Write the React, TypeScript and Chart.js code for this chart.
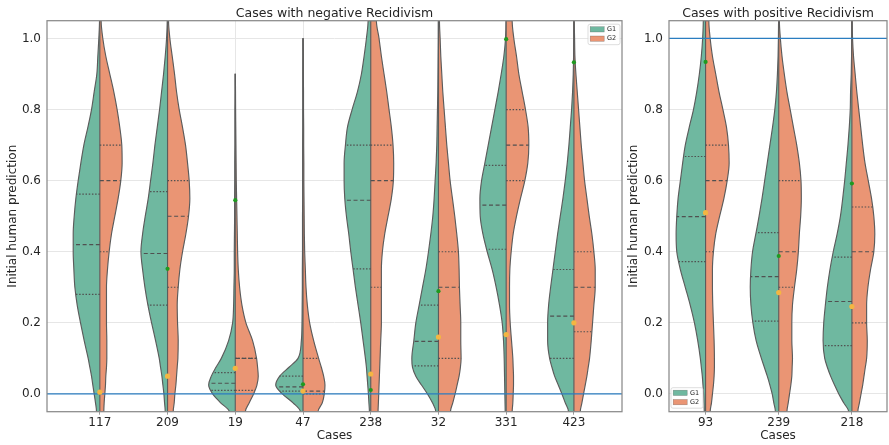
import React, { useEffect, useRef } from "react";
import { Chart, registerables } from "chart.js";
Chart.register(...registerables);

const FONT = '"DejaVu Sans", sans-serif';
const TEXT = "#262626";
const G1_COLOR = "#6fb8a0";
const G2_COLOR = "#ea9574";
const EDGE = "#5c5c5c";
const GRID = "#e6e6e6";

// y positions at which the density widths below were read
const Y_GRID = [-0.05, -0.025, 0, 0.025, 0.05, 0.075, 0.1, 0.15, 0.2, 0.25, 0.3, 0.35, 0.4, 0.45, 0.5, 0.55, 0.6, 0.65, 0.7, 0.75, 0.8, 0.85, 0.9, 0.95, 1.0, 1.05];
const Y_TICKS = [0, 0.2, 0.4, 0.6, 0.8, 1.0];

// ---------- Cases with negative Recidivism ----------
const NEG_CASES = ["117", "209", "19", "47", "238", "32", "331", "423"];
const NEG_G1: (number | null)[][] = [
  [10, 13, 17, 21, 25, 30, 35, 47, 58, 68, 75, 78, 80, 80, 77, 72, 65, 57, 48, 36, 25, 17, 9, 6, 3, 1],
  [7, 9, 11, 14, 17, 21, 25, 36, 48, 59, 68, 75, 80, 75, 67, 58, 51, 44, 38, 31, 24, 18, 12, 7, 3, 1],
  [18, 44, 68, 80, 72, 58, 42, 20, 8, 5, 4, 3, 3, 2.5, 2, 2, 1.5, 1.5, 1, 1, 1, 0.5, 0.5, null, null, null],
  [8, 30, 62, 82, 70, 42, 15, 5, 3, 2.5, 2, 2, 1.5, 1.5, 1.5, 1, 1, 1, 1, 0.5, 0.5, 0.5, 0.5, 0.3, 0.3, null],
  [4, 5.5, 7, 9, 11, 13, 16, 23, 30, 38, 46, 53, 60, 66, 73, 78, 80, 80, 76, 70, 56, 40, 28, 20, 13, 8],
  [8, 18, 33, 51, 68, 78, 80, 74, 68, 58, 48, 38, 30, 23, 17, 13, 10, 7, 5, 4, 3, 2, 1.5, 1, 0.5, 0.3],
  [3, 3.5, 4, 4.5, 5, 5.5, 6, 8, 12, 20, 30, 42, 57, 70, 78, 79, 74, 64, 54, 44, 34, 24, 15, 7, 2, 0.5],
  [16, 26, 36, 47, 58, 66, 73, 79, 79, 76, 70, 63, 56, 49, 41, 33, 26, 20, 15, 11, 7, 4, 2, 1, 0.5, 0.3],
];
const NEG_G2: (number | null)[][] = [
  [12, 13, 15, 17, 18, 20, 21, 21, 20, 20, 20, 23, 28, 35, 45, 55, 63, 67, 66, 60, 52, 42, 30, 18, 9, 4],
  [17, 20, 22, 25, 27, 29, 31, 32, 30, 29, 32, 37, 45, 55, 63, 67, 65, 60, 54, 45, 35, 27, 21, 14, 7, 3],
  [30, 42, 55, 65, 69, 67, 64, 52, 32, 20, 13, 9, 7, 6, 5, 4, 3, 2.5, 2, 1.5, 1, 0.7, 0.3, null, null, null],
  [45, 58, 64, 66, 62, 55, 47, 32, 20, 13, 9, 7, 5, 4, 3.5, 3, 2.5, 2.5, 2, 2, 1.5, 1.5, 1, 1, 0.5, null],
  [22, 23, 24, 25, 26, 27, 28, 30, 32, 32, 32, 32, 35, 42, 52, 62, 68, 69, 67, 62, 55, 48, 40, 32, 25, 17],
  [36, 43, 50, 56, 62, 66, 68, 67, 67, 65, 63, 62, 60, 55, 49, 42, 35, 30, 25, 21, 17, 13, 10, 7, 5, 3],
  [18, 20, 21, 22, 22, 21, 20, 16, 12, 10, 10, 11, 15, 21, 31, 43, 56, 65, 68, 66, 58, 48, 38, 31, 23, 18],
  [19, 24, 29, 34, 39, 43, 47, 52, 56, 60, 64, 64, 60, 54, 46, 39, 32, 27, 22, 18, 14, 10, 6, 3, 2, 1],
];
// quartiles [q1, median, q3]
const NEG_Q_G1 = [[0.28, 0.42, 0.562], [0.25, 0.395, 0.569], [0.01, 0.03, 0.06], [0.008, 0.02, 0.05], [0.352, 0.545, 0.7], [0.079, 0.148, 0.25], [0.407, 0.531, 0.643], [0.1, 0.219, 0.35]];
const NEG_Q_G2 = [[0.4, 0.6, 0.7], [0.3, 0.5, 0.6], [0.01, 0.1, 0.1], [0.0, 0.008, 0.1], [0.3, 0.6, 0.7], [0.1, 0.3, 0.4], [0.6, 0.7, 0.8], [0.175, 0.3, 0.4]];
const NEG_GREEN = [0.004, 0.352, 0.545, 0.027, 0.011, 0.289, 0.998, 0.933];
const NEG_ORANGE = [0.005, 0.05, 0.072, 0.008, 0.056, 0.16, 0.167, 0.2];
const NEG_REF = 0;

// ---------- Cases with positive Recidivism ----------
const POS_CASES = ["93", "239", "218"];
const POS_G1: (number | null)[][] = [
  [4, 5, 6, 8, 10, 13, 16, 24, 34, 47, 62, 77, 88, 90, 88, 84, 77, 70, 62, 50, 37, 27, 19, 13, 9, 7],
  [10, 15, 20, 27, 35, 44, 53, 69, 79, 85, 87, 85, 80, 70, 60, 51, 43, 35, 27, 19, 12, 7, 4, 2, 1, 0.5],
  [10, 25, 40, 53, 65, 75, 83, 88, 86, 81, 75, 67, 57, 45, 35, 28, 22, 17, 12, 8, 5, 4, 2, 1, 0.5, 0.3],
];
const POS_G2: (number | null)[][] = [
  [14, 18, 21, 24, 26, 27, 27, 26, 24, 22, 21, 21, 24, 31, 43, 56, 66, 72, 70, 64, 53, 41, 31, 21, 14, 10],
  [25, 29, 33, 37, 40, 41, 42, 40, 40, 42, 48, 55, 60, 63, 67, 69, 68, 63, 55, 45, 35, 25, 17, 10, 5, 2],
  [18, 23, 28, 33, 37, 41, 45, 47, 45, 45, 49, 57, 67, 70, 67, 60, 50, 40, 33, 27, 21, 15, 10, 5, 2, 1],
];
const POS_Q_G1 = [[0.372, 0.499, 0.668], [0.205, 0.33, 0.454], [0.136, 0.26, 0.385]];
const POS_Q_G2 = [[0.4, 0.6, 0.7], [0.3, 0.4, 0.6], [0.2, 0.4, 0.526]];
const POS_GREEN = [0.934, 0.388, 0.592];
const POS_ORANGE = [0.51, 0.285, 0.246];
const POS_REF = 1.0;

type Panel = {
  title: string;
  cases: string[];
  g1: (number | null)[][];
  g2: (number | null)[][];
  q1: number[][];
  q2: number[][];
  green: number[];
  orange: number[];
  ref: number;
  xMin: number;
  xMax: number;
  widthScale: number;
  yAxisWidth: number;
  padRight: number;
  yTitlePad: number;
  legend: "tr" | "bl";
};

const NEG_PANEL: Panel = {
  title: "Cases with negative Recidivism",
  cases: NEG_CASES, g1: NEG_G1, g2: NEG_G2, q1: NEG_Q_G1, q2: NEG_Q_G2,
  green: NEG_GREEN, orange: NEG_ORANGE, ref: NEG_REF,
  xMin: -0.78, xMax: 7.71, widthScale: 1 / 203.5,
  yAxisWidth: 47, padRight: 3, yTitlePad: 5.8, legend: "tr",
};
const POS_PANEL: Panel = {
  title: "Cases with positive Recidivism",
  cases: POS_CASES, g1: POS_G1, g2: POS_G2, q1: POS_Q_G1, q2: POS_Q_G2,
  green: POS_GREEN, orange: POS_ORANGE, ref: POS_REF,
  xMin: -0.5, xMax: 2.48, widthScale: 1 / 223.5,
  yAxisWidth: 43, padRight: 0, yTitlePad: 0.8, legend: "bl",
};

function widthAt(ws: (number | null)[], y: number): number {
  for (let i = 0; i < Y_GRID.length - 1; i++) {
    const y0 = Y_GRID[i], y1 = Y_GRID[i + 1];
    if (y >= y0 && y <= y1) {
      const a = ws[i] ?? 0, b = ws[i + 1] ?? 0;
      return a + ((b - a) * (y - y0)) / (y1 - y0);
    }
  }
  return 0;
}

function validIdx(ws: (number | null)[]) {
  const idx: number[] = [];
  ws.forEach((w, i) => { if (w !== null && w !== undefined) idx.push(i); });
  return idx;
}

function buildDatasets(p: Panel) {
  const bottom: any[] = [];
  const base = { pointRadius: 0, clip: 0, spanGaps: false };
  p.cases.forEach((_, c) => {
    const halves = [
      { ws: p.g1[c], sign: -1, color: G1_COLOR, q: p.q1[c] },
      { ws: p.g2[c], sign: 1, color: G2_COLOR, q: p.q2[c] },
    ];
    let yLo = Infinity, yHi = -Infinity;
    halves.forEach((h) => {
      const idx = validIdx(h.ws);
      const pts: any[] = [];
      pts.push({ x: c, y: Y_GRID[idx[0]] });
      idx.forEach((i) => pts.push({ x: c + h.sign * (h.ws[i] as number) * p.widthScale, y: Y_GRID[i] }));
      pts.push({ x: c, y: Y_GRID[idx[idx.length - 1]] });
      yLo = Math.min(yLo, Y_GRID[idx[0]]);
      yHi = Math.max(yHi, Y_GRID[idx[idx.length - 1]]);
      bottom.push({
        ...base,
        data: pts,
        borderColor: EDGE,
        borderWidth: 1.15,
        backgroundColor: h.color,
        fill: "shape",
        cubicInterpolationMode: "monotone",
      });
    });
    // split line
    bottom.push({ ...base, data: [{ x: c, y: yLo }, { x: c, y: yHi }], borderColor: EDGE, borderWidth: 1.15, fill: false });
    // quartile lines
    halves.forEach((h) => {
      h.q.forEach((qv, k) => {
        const w = widthAt(h.ws, qv) * p.widthScale;
        bottom.push({
          ...base,
          data: [{ x: c, y: qv }, { x: c + h.sign * w, y: qv }],
          borderColor: "#505050",
          borderWidth: 1.15,
          borderDash: k === 1 ? [4, 2.6] : [1.5, 1.7],
          fill: false,
        });
      });
    });
  });
  // reference line
  bottom.push({ ...base, data: [{ x: p.xMin, y: p.ref }, { x: p.xMax, y: p.ref }], borderColor: "#2a7dc0", borderWidth: 1.3, fill: false });
  // dots
  bottom.push({
    data: p.green.map((v, i) => ({ x: i, y: v })),
    showLine: false, pointRadius: 2.1, pointBorderWidth: 0,
    pointBackgroundColor: "#1f9a1f", clip: 4,
  });
  bottom.push({
    data: p.orange.map((v, i) => ({ x: i, y: v })),
    showLine: false, pointRadius: 2.6, pointBorderWidth: 0,
    pointBackgroundColor: "#f4b642", clip: 4,
  });
  return bottom.reverse();
}

function decorPlugin(p: Panel) {
  return {
    id: "decor",
    afterDraw(chart: any) {
      const { ctx, chartArea: a } = chart;
      ctx.save();
      ctx.strokeStyle = "#8a8a8a";
      ctx.lineWidth = 1.25;
      ctx.strokeRect(a.left, a.top, a.right - a.left, a.bottom - a.top);
      ctx.fillStyle = TEXT;
      ctx.font = `12.5px ${FONT}`;
      ctx.textAlign = "center";
      ctx.textBaseline = "alphabetic";
      ctx.fillText(p.title, (a.left + a.right) / 2, a.top - 3.3);
      // legend
      const w = 32, h = 20.5;
      const x0 = p.legend === "tr" ? a.right - 2 - w : a.left + 2;
      const y0 = p.legend === "tr" ? a.top + 3.5 : a.bottom - 3.5 - h;
      ctx.beginPath();
      if (ctx.roundRect) ctx.roundRect(x0, y0, w, h, 2); else ctx.rect(x0, y0, w, h);
      ctx.fillStyle = "rgba(255,255,255,0.8)";
      ctx.fill();
      ctx.strokeStyle = "#d4d4d4";
      ctx.lineWidth = 0.8;
      ctx.stroke();
      const items = [{ t: "G1", c: G1_COLOR }, { t: "G2", c: G2_COLOR }];
      items.forEach((it, i) => {
        const py = y0 + 2.5 + i * 9.3;
        ctx.fillStyle = it.c;
        ctx.fillRect(x0 + 2.2, py, 14, 5.3);
        ctx.strokeStyle = "rgba(70,70,70,0.5)";
        ctx.lineWidth = 0.5;
        ctx.strokeRect(x0 + 2.2, py, 14, 5.3);
        ctx.fillStyle = TEXT;
        ctx.font = `6.5px ${FONT}`;
        ctx.textAlign = "left";
        ctx.textBaseline = "middle";
        ctx.fillText(it.t, x0 + 19, py + 2.8);
      });
      ctx.restore();
    },
  };
}

function makeConfig(p: Panel): any {
  const tickFont = { family: FONT, size: 12 };
  return {
    type: "line",
    data: { datasets: buildDatasets(p) },
    options: {
      animation: false,
      responsive: false,
      events: [],
      indexAxis: "y",
      layout: { padding: { left: 0, right: p.padRight, top: 20.7, bottom: 0 } },
      plugins: { legend: { display: false }, tooltip: { enabled: false }, title: { display: false } },
      scales: {
        x: {
          type: "linear",
          min: p.xMin,
          max: p.xMax,
          bounds: "data",
          afterFit: (s: any) => { s.height = 33.3; },
          afterBuildTicks: (s: any) => { s.ticks = p.cases.map((_, i) => ({ value: i })); },
          ticks: { callback: (v: number) => p.cases[Math.round(v)], font: tickFont, color: TEXT, padding: 1, autoSkip: false, maxRotation: 0 },
          grid: { color: GRID, lineWidth: 1, tickLength: 3, tickColor: "#9a9a9a" },
          border: { display: false },
          title: { display: true, text: "Cases", font: { family: FONT, size: 12 }, color: TEXT, padding: { top: 0, bottom: 1.8 } },
        },
        y: {
          type: "linear",
          min: -0.05,
          max: 1.05,
          bounds: "data",
          afterFit: (s: any) => { s.width = p.yAxisWidth; },
          afterBuildTicks: (s: any) => { s.ticks = Y_TICKS.map((v) => ({ value: v })); },
          ticks: { callback: (v: number) => v.toFixed(1), font: tickFont, color: TEXT, padding: 3 },
          grid: { color: GRID, lineWidth: 1, tickLength: 3, tickColor: "rgba(0,0,0,0)" },
          border: { display: false },
          title: { display: true, text: "Initial human prediction", font: { family: FONT, size: 12 }, color: TEXT, padding: { top: p.yTitlePad, bottom: 0 } },
        },
      },
    },
    plugins: [decorPlugin(p)],
  };
}

function PanelChart({ panel, left, width }: { panel: Panel; left: number; width: number }) {
  const ref = useRef<HTMLCanvasElement>(null);
  useEffect(() => {
    const chart = new Chart(ref.current as HTMLCanvasElement, makeConfig(panel));
    return () => chart.destroy();
  }, [panel]);
  return (
    <canvas
      ref={ref}
      width={width}
      height={445}
      style={{ position: "absolute", left, top: 0, width, height: 445 }}
    />
  );
}

export default function App() {
  return (
    <div style={{ position: "fixed", left: 0, top: 0, width: 889, height: 445, overflow: "hidden", background: "#fff" }}>
      <PanelChart panel={NEG_PANEL} left={0} width={626} />
      <PanelChart panel={POS_PANEL} left={626} width={265} />
    </div>
  );
}
